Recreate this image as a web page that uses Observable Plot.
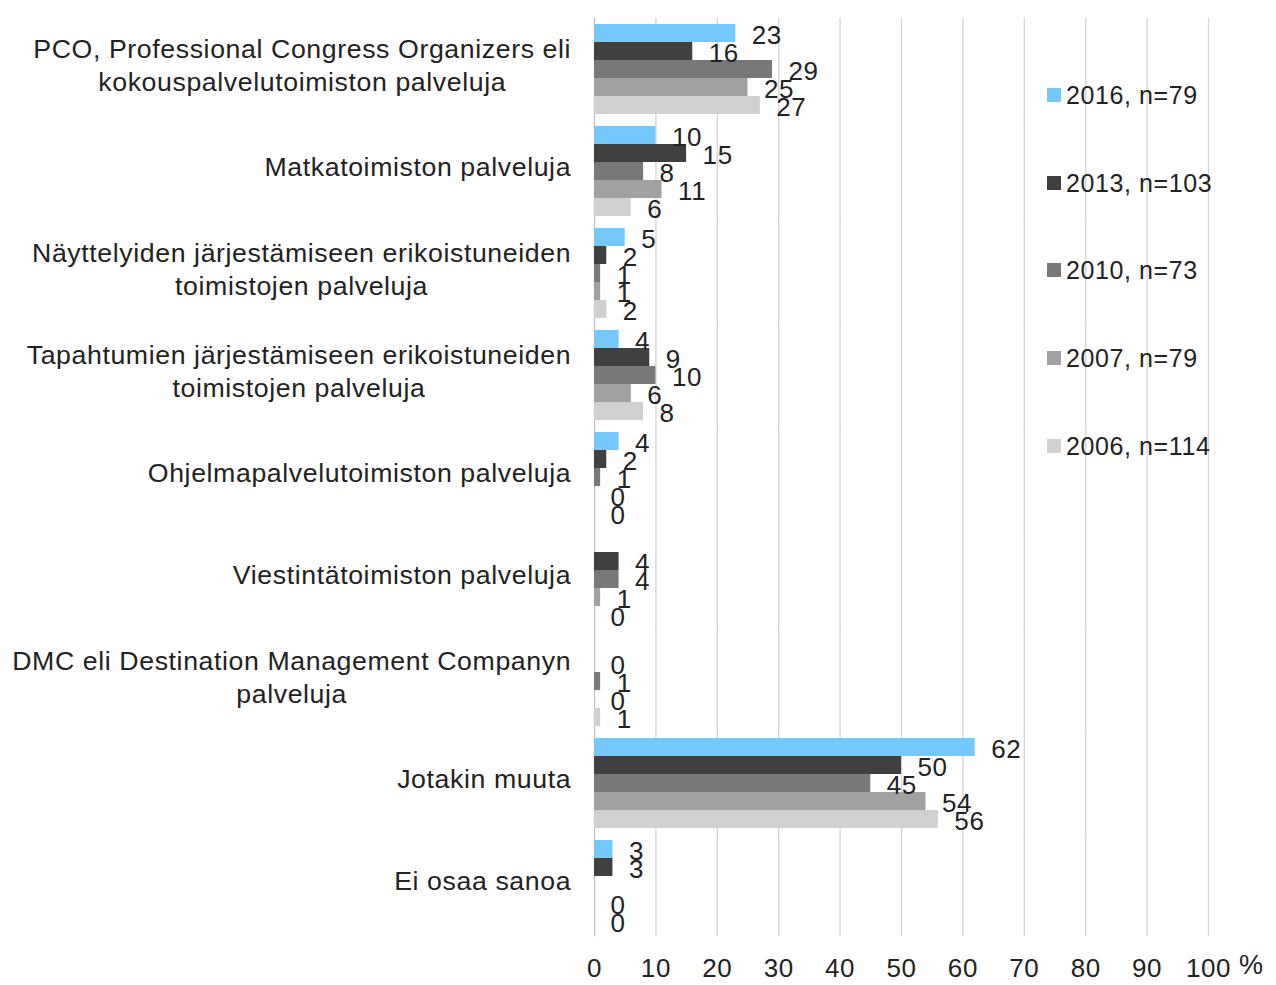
<!DOCTYPE html>
<html>
<head>
<meta charset="utf-8">
<script src="https://cdn.jsdelivr.net/npm/d3@7"></script>
<script src="https://cdn.jsdelivr.net/npm/@observablehq/plot@0.6"></script>
<style>
  body { margin: 0; background: #fff; font-family: "Liberation Sans", Arial, sans-serif; }
  #wrap { position: relative; width: 1276px; height: 985px; }
  #wrap > svg { position: absolute; left: 0; top: 0; }
  .lg { position: absolute; left: 1047px; display: flex; align-items: center; font-size: 25px; color: #222; letter-spacing: 0.6px; white-space: nowrap; }
  .lg span.sw { display: inline-block; width: 14px; height: 14px; margin-right: 5px; }
  #pct { position: absolute; left: 1239px; top: 950px; font-size: 27px; color: #222; }
</style>
</head>
<body>
<div id="wrap"></div>
<script>
// ---- data ----
const categories = [
  "PCO, Professional Congress Organizers eli\nkokouspalvelutoimiston palveluja",
  "Matkatoimiston palveluja",
  "Näyttelyiden järjestämiseen erikoistuneiden\ntoimistojen palveluja",
  "Tapahtumien järjestämiseen erikoistuneiden\ntoimistojen palveluja",
  "Ohjelmapalvelutoimiston palveluja",
  "Viestintätoimiston palveluja",
  "DMC eli Destination Management Companyn\npalveluja",
  "Jotakin muuta",
  "Ei osaa sanoa"
];
const years = ["2016", "2013", "2010", "2007", "2006"];
const legendLabels = ["2016, n=79", "2013, n=103", "2010, n=73", "2007, n=79", "2006, n=114"];
const v2016 = [23, 10, 5, 4, 4, null, null, 62, 3];
const v2013 = [16, 15, 2, 9, 2, 4, 0, 50, 3];
const v2010 = [29, 8, 1, 10, 1, 4, 1, 45, null];
const v2007 = [25, 11, 1, 6, 0, 1, 0, 54, 0];
const v2006 = [27, 6, 2, 8, 0, 0, 1, 56, 0];
const xTicks = [0, 10, 20, 30, 40, 50, 60, 70, 80, 90, 100];
const colors = ["#74C8FB", "#404040", "#787878", "#A1A1A1", "#D0D0D0"];

const series = [v2016, v2013, v2010, v2007, v2006];
const rows = [];
categories.forEach((c, i) => {
  years.forEach((y, j) => {
    const v = series[j][i];
    if (v != null) rows.push({cat: c, year: y, value: v});
  });
});

// measure label widths (in a real SVG) for centred multi-line labels
const LABEL_FONT = 26.7;
const LS = 0.6;          // letter spacing inherited from the svg style
const LABEL_GAP = 24;
const mSvg = document.createElementNS("http://www.w3.org/2000/svg", "svg");
mSvg.setAttribute("width", 10); mSvg.setAttribute("height", 10);
mSvg.style.position = "absolute"; mSvg.style.visibility = "hidden";
document.body.appendChild(mSvg);
function lineWidth(l) {
  const t = document.createElementNS("http://www.w3.org/2000/svg", "text");
  t.setAttribute("font-family", "Liberation Sans, Arial, sans-serif");
  t.setAttribute("font-size", LABEL_FONT);
  t.setAttribute("letter-spacing", LS + "px");
  t.textContent = l;
  mSvg.appendChild(t);
  const w = t.getBBox().width;
  mSvg.removeChild(t);
  return w - LS;
}
function blockWidth(s) {
  return Math.max(...s.split("\n").map(lineWidth));
}

const labelMarks = categories.map(c =>
  Plot.text([c], {
    fy: d => d,
    frameAnchor: "left",
    text: d => d,
    textAnchor: "middle",
    lineAnchor: "middle",
    lineHeight: 1.24,
    dx: -(LABEL_GAP + blockWidth(c) / 2) + LS / 2,
    dy: -6,
    fontSize: LABEL_FONT,
    fill: "#222"
  })
);

const chart = Plot.plot({
  width: 1276,
  height: 985,
  marginLeft: 594,
  marginRight: 68,
  marginTop: 14,
  marginBottom: 45,
  style: { fontFamily: "Liberation Sans, Arial, sans-serif", fontSize: "26px", color: "#222", background: "transparent", letterSpacing: LS + "px" },
  x: { domain: [0, 100], ticks: xTicks, tickSize: 0, tickPadding: 27, label: null },
  y: { domain: years, padding: 0, axis: null },
  fy: { domain: categories, paddingInner: 0.102, paddingOuter: 0.05, axis: null },
  color: { domain: years, range: colors },
  marks: [
    Plot.ruleX(xTicks, { stroke: d => d === 0 ? "#bfbfbf" : "#d4d4d4", strokeWidth: 1.3, insetTop: -5.3, insetBottom: -5.3 }),
    Plot.barX(rows, { fy: "cat", y: "year", x: "value", fill: "year" }),
    Plot.text(rows, { fy: "cat", y: "year", x: "value", text: d => String(d.value), textAnchor: "start", dx: 16, dy: 2, fontSize: 26, fill: "#222" }),
    ...labelMarks
  ]
});

const wrap = document.getElementById("wrap");
wrap.appendChild(chart);
mSvg.remove();

// legend
const legendY = [95, 183, 270, 358, 446];
years.forEach((y, i) => {
  const d = document.createElement("div");
  d.className = "lg";
  d.style.top = (legendY[i] - 15) + "px";
  d.style.height = "30px";
  d.innerHTML = `<span class="sw" style="background:${colors[i]}"></span><span>${legendLabels[i]}</span>`;
  wrap.appendChild(d);
});
const pct = document.createElement("div");
pct.id = "pct";
pct.textContent = "%";
wrap.appendChild(pct);
</script>
</body>
</html>
